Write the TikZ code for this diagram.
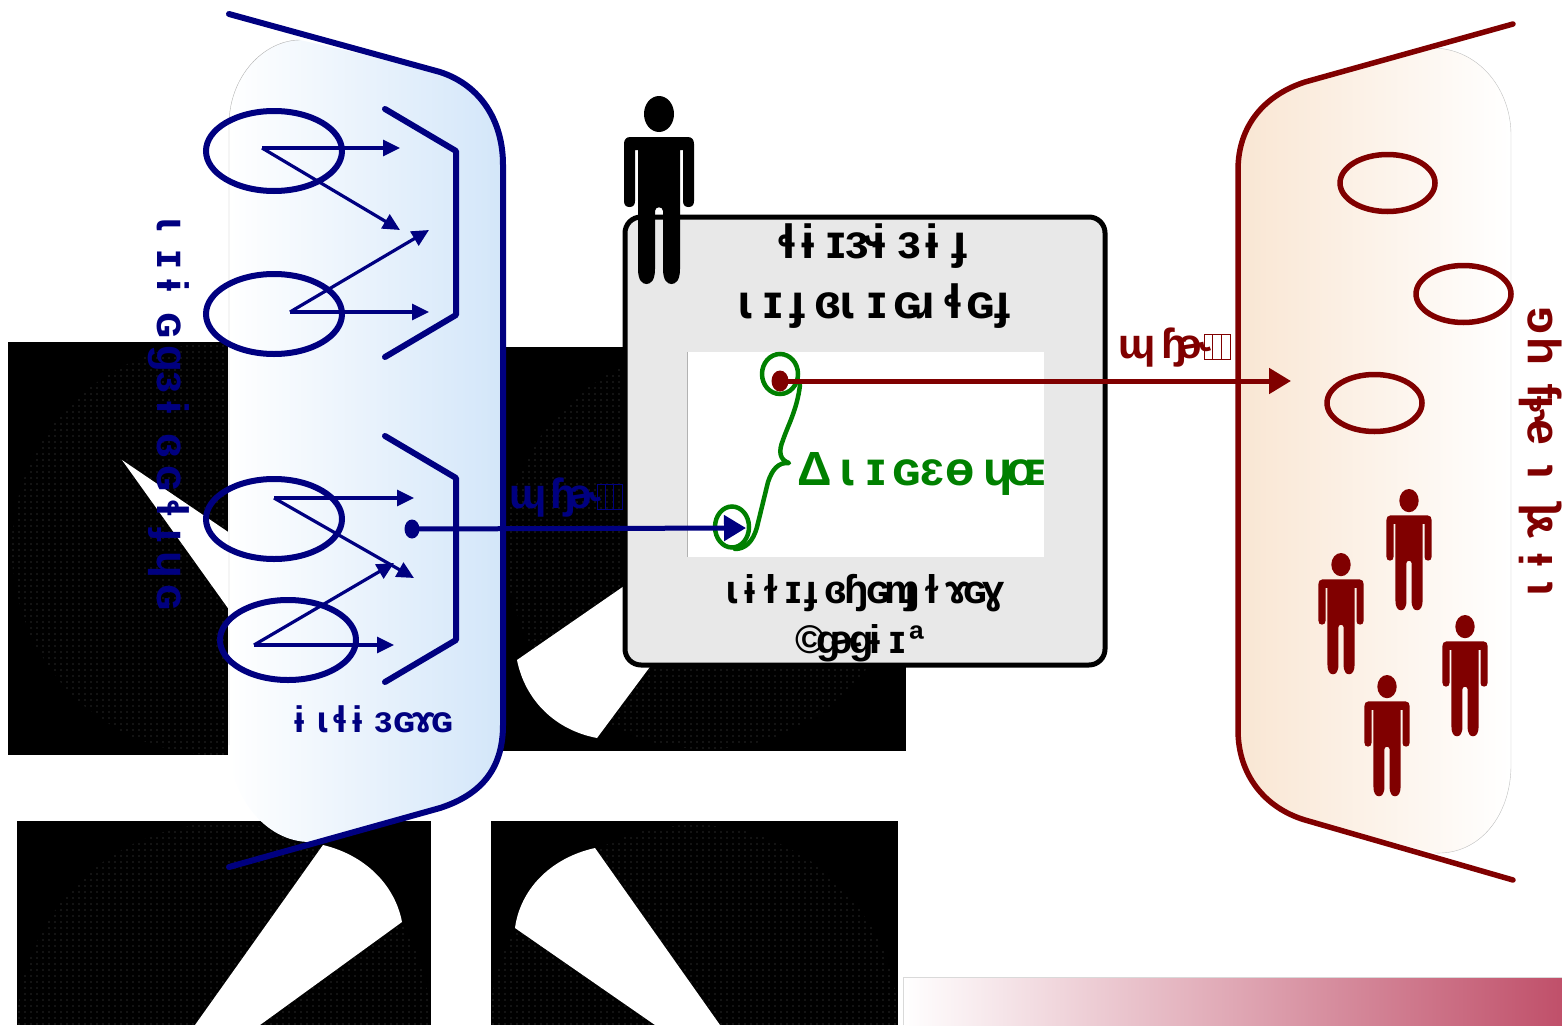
\documentclass[tikz,border=0pt]{standalone}
\usepackage{fontspec}
\setmainfont{Liberation Sans}
\newfontfamily\ipafont{Liberation Sans}
\usetikzlibrary{arrows.meta,patterns,shapes.geometric}
\definecolor{navyc}{HTML}{000080}
\definecolor{maroonc}{HTML}{800000}
\definecolor{greenc}{HTML}{008000}
\definecolor{boxgrey}{HTML}{E8E8E8}
\definecolor{dotgrey}{HTML}{555555}
\definecolor{paleblue}{HTML}{D3E6F9}
\definecolor{palepeach}{HTML}{F9E6D3}
\definecolor{rosec}{HTML}{C0506A}
\pgfdeclarepatternformonly{fdots}{\pgfqpoint{-1pt}{-1pt}}{\pgfqpoint{3pt}{3pt}}{\pgfqpoint{6pt}{6pt}}{\pgfpathcircle{\pgfqpoint{1pt}{1pt}}{0.55pt}\pgfusepath{fill}}
\newcommand{\G}[2]{\makebox[0pt]{#1}\kern#2pt\relax}
\newcommand{\figpath}{%
  (0,18) ellipse (15 and 18)
  (-29,41) .. controls (-33,41) and (-35,44) .. (-35,48) -- (-35,105) .. controls (-35,109) and (-33,111) .. (-29.5,111) .. controls (-26,111) and (-24,109) .. (-24,105) -- (-24,54) -- (-21,54)
  -- (-21,173) .. controls (-21,184) and (-17,188) .. (-12.5,188) .. controls (-8,188) and (-4,184) .. (-4,173) -- (-4,115) .. controls (-4,110) and (4,110) .. (4,115)
  -- (4,173) .. controls (4,184) and (8,188) .. (12.5,188) .. controls (17,188) and (21,184) .. (21,173)
  -- (21,54) -- (24,54) -- (24,105) .. controls (24,109) and (26,111) .. (29.5,111) .. controls (33,111) and (35,109) .. (35,105) -- (35,48) .. controls (35,44) and (33,41) .. (29,41) -- cycle}
\tikzset{
  x=1pt,y=-1pt,
  dotdisc/.style={pattern=fdots,pattern color=dotgrey},
  wedge/.style={fill=white,draw=none},
  bl/.style={draw=navyc,line width=6pt,line cap=round,line join=round},
  mr/.style={draw=maroonc,line width=5.5pt,line cap=round,line join=round},
  blring/.style={ellipse,draw=navyc,line width=6pt,minimum width=136pt,minimum height=80pt,inner sep=0pt},
  mrring/.style={ellipse,draw=maroonc,line width=5.5pt,minimum width=95pt,minimum height=57pt,inner sep=0pt},
  thinarrow/.style={draw=navyc,line width=3.2pt,-{Triangle[length=17pt,width=16pt]}},
  bigbl/.style={draw=navyc,line width=5pt,-{Triangle[length=22pt,width=25pt]}},
  bigmr/.style={draw=maroonc,line width=5pt,-{Triangle[length=22pt,width=25pt]}},
  greenring/.style={ellipse,draw=greenc,line width=4.5pt,inner sep=0pt},
  txt/.style={font=\ipafont\bfseries\fontsize{48}{50}\selectfont,inner sep=0pt,anchor=base west,text=black},
  midtxt/.style={font=\ipafont\bfseries\fontsize{40}{42}\selectfont,inner sep=0pt,anchor=base west,text=black},
  bottxt/.style={font=\ipafont\bfseries\fontsize{37}{39}\selectfont,inner sep=0pt,anchor=base west},
  lbltxt/.style={font=\ipafont\bfseries\fontsize{42}{44}\selectfont,inner sep=0pt,anchor=base west},
  tofu/.style={line width=.7pt},
}
\begin{document}
\begin{tikzpicture}
\useasboundingbox (0,0) rectangle (1562,1025);
% black background fragments
\begin{scope}
 \clip (8,342) rectangle (228,755);
 \fill[black] (8,342) rectangle (228,755);
 \fill[dotdisc] (218,549) circle (206);
\end{scope}
\fill[wedge] (122,460) -- (240,625) -- (240,540) -- cycle;
\begin{scope}
 \clip (500,347) rectangle (906,751);
 \fill[black] (500,347) rectangle (906,751);
 \fill[dotdisc] (706,549) circle (200);
\end{scope}
\fill[wedge] (640,575) -- (517,660) .. controls (525,700) and (555,730) .. (597,738) -- (655,660) -- cycle;
\begin{scope}
 \clip (17,821) rectangle (431,1025);
 \fill[black] (17,821) rectangle (431,1025);
 \fill[dotdisc] (224,1030) circle (207);
\end{scope}
\fill[wedge] (195,1025) -- (323,845) .. controls (365,855) and (395,885) .. (402,922) -- (260,1025) -- cycle;
\begin{scope}
 \clip (491,821) rectangle (898,1025);
 \fill[black] (491,821) rectangle (898,1025);
 \fill[dotdisc] (694,1030) circle (205);
\end{scope}
\fill[wedge] (515,928) .. controls (520,890) and (550,858) .. (595,848) -- (720,1025) -- (655,1025) -- cycle;
% bottom gradient
\shade[left color=white,right color=rosec,draw=none] (903,977) rectangle (1562,1025);
\draw[black!15,line width=.7pt] (903,1025) -- (903,977) -- (1562,977);
% blue panel
\shade[left color=white,right color=paleblue,draw=none]
 (229,125) .. controls (229,75) and (265,40) .. (300,40) -- (440,72) .. controls (480,85) and (503,120) .. (503,165)
 -- (503,725) .. controls (503,770) and (480,795) .. (440,808) -- (310,842) .. controls (265,842) and (229,795) .. (229,745) -- cycle;
\draw[black!30,line width=.4pt] (229,745) -- (229,125) .. controls (229,75) and (265,40) .. (300,40);
\coordinate (bt) at (229,14); \coordinate (bb) at (229,867);
\draw[bl] (bt) -- (440,72) .. controls (480,85) and (503,120) .. (503,165) -- (503,725) .. controls (503,770) and (480,795) .. (440,808) -- (bb);
% maroon panel
\shade[left color=palepeach,right color=white,draw=none]
 (1238,170) .. controls (1238,125) and (1265,95) .. (1305,82) -- (1435,48) .. controls (1480,50) and (1511,90) .. (1511,135)
 -- (1511,765) .. controls (1511,815) and (1480,855) .. (1435,853) -- (1305,820) .. controls (1265,808) and (1238,775) .. (1238,730) -- cycle;
\draw[black!25,line width=.4pt] (1435,48) .. controls (1480,50) and (1511,90) .. (1511,135) -- (1511,765) .. controls (1511,815) and (1480,855) .. (1435,853);
\coordinate (rt) at (1513,24); \coordinate (rb) at (1513,880);
\draw[mr] (rt) -- (1305,82) .. controls (1265,95) and (1238,125) .. (1238,170) -- (1238,730) .. controls (1238,775) and (1265,808) .. (1305,820) -- (rb);
% left ellipses
\node[blring] (e1) at (274,151) {};
\node[blring] (e2) at (274,314) {};
\node[blring] (e3) at (274,519) {};
\node[blring] (e4) at (288,640) {};
% brackets
\draw[bl] (385,109) -- (456,151) -- (456,315) -- (385,357);
\draw[bl] (385,436) -- (456,478) -- (456,640) -- (385,682);
% thin arrows
\coordinate (s1) at (262,148); \coordinate (t1a) at (400,148); \coordinate (t1b) at (400,230);
\coordinate (s2) at (290,312); \coordinate (t2a) at (429,230); \coordinate (t2b) at (429,312);
\coordinate (s3) at (274,498); \coordinate (t3a) at (414,498); \coordinate (t3b) at (414,578);
\coordinate (s4) at (254,645); \coordinate (t4a) at (394,563); \coordinate (t4b) at (394,645);
\draw[thinarrow] (s1) -- (t1a); \draw[thinarrow] (s1) -- (t1b);
\draw[thinarrow] (s2) -- (t2a); \draw[thinarrow] (s2) -- (t2b);
\draw[thinarrow] (s3) -- (t3a); \draw[thinarrow] (s3) -- (t3b);
\draw[thinarrow] (s4) -- (t4a); \draw[thinarrow] (s4) -- (t4b);
% grey box
\draw[black,fill=boxgrey,line width=5pt,rounded corners=16pt] (625,217) rectangle (1105,665);
\fill[white] (687,352) rectangle (1044,557);
\draw[black!30,line width=.6pt] (687,557) -- (687,352);
% person on box
\fill[black,shift={(659,96)}] \figpath;
% green marks
\node[greenring,minimum width=36pt,minimum height=40pt] (g1) at (780,374) {};
\node[greenring,minimum width=34pt,minimum height=41pt] (g2) at (732,527) {};
\draw[greenc,line width=4.5pt,line cap=round,line join=round] (800,385) .. controls (797,410) and (788,425) .. (783,440) .. controls (778,452) and (780,460) .. (789,463) .. controls (778,462) and (772,470) .. (768,482) -- (757,527) .. controls (753,542) and (745,549) .. (735,549);
% flows
\node[fill=navyc,ellipse,minimum width=15pt,minimum height=19pt,inner sep=0pt] (srcb) at (412,529) {};
\coordinate (dstb) at (746,528);
\draw[bigbl] (srcb.center) -- (dstb);
\node[fill=maroonc,ellipse,minimum width=17pt,minimum height=21pt,inner sep=0pt] (srcm) at (780,381) {};
\coordinate (dstm) at (1291,381);
\draw[bigmr] (srcm.center) -- (dstm);
% maroon ellipses
\node[mrring] (m1) at (1387.5,183) {};
\node[mrring] (m2) at (1463.5,294) {};
\node[mrring] (m3) at (1374.5,403) {};
% buyers
\fill[maroonc,shift={(1341,553)},scale=.645] \figpath;
\fill[maroonc,shift={(1409,489)},scale=.645] \figpath;
\fill[maroonc,shift={(1465,615)},scale=.645] \figpath;
\fill[maroonc,shift={(1387,675)},scale=.645] \figpath;
% texts
\node[txt] (l1) at (787,258) {\G{ɬ}{21}\G{ɨ}{28}\G{ɪ}{26}\G{ɝ}{17}\G{ɨ}{30}\G{ɜ}{23}\G{ɨ}{27}\G{ɟ}{0}};
\node[txt] (l2) at (745,318) {\G{ɩ}{28}\G{ɪ}{24}\G{ɟ}{31}\G{ɞ}{19}\G{ɩ}{30}\G{ɪ}{30}\G{ɢ}{19}\G{ɹ}{27}\G{ɬ}{27}\G{ɢ}{22}\G{ɟ}{0}};
\node[midtxt] (l3) at (732,603) {\G{ɩ}{18}\G{ɨ}{21}\G{ɫ}{22}\G{ɪ}{18}\G{ɟ}{25}\G{ɞ}{20}\G{ɧ}{22}\G{ɢ}{24}\G{ɱ}{8}\G{ɟ}{22}\G{ɫ}{25}\G{ɤ}{18}\G{ɢ}{18}\G{ɣ}{0}};
\node[midtxt] (l4) at (810,653) {\G{©}{18}\G{ɡ}{18}\G{ɚ}{15}\G{ɡ}{14}\G{ɨ}{22}\G{ɪ}{20}\G{ª}{0}};
\node[txt,text=greenc] (prof) at (815,485) {\G{Δ}{32}\G{ɩ}{29}\G{ɪ}{30}\G{ɢ}{26}\G{ɛ}{28}\G{ɵ}{38}\G{ɥ}{28}\G{ɶ}{0}};
\node[bottxt,text=navyc] (opt) at (299,732) {\G{ɨ}{23}\G{ɩ}{18}\G{ɬ}{17}\G{ɨ}{26}\G{ɜ}{21}\G{ɢ}{19}\G{ɤ}{19}\G{ɢ}{0}};
\node[lbltxt,text=navyc] (pr1) at (528,508) {\G{ɰ}{35}\G{ɧ}{22}\G{ɚ}{0}};
\draw[tofu,draw=navyc] (597,484) rectangle +(25,25) (605.3,484) -- (605.3,509) (613.6,484) -- (613.6,509);
\node[lbltxt,text=maroonc] (pr2) at (1137,358) {\G{ɰ}{37}\G{ɧ}{21}\G{ɚ}{0}};
\draw[tofu,draw=maroonc] (1204,334) rectangle +(26,25) (1212.7,334) -- (1212.7,359) (1221.4,334) -- (1221.4,359);
\node[txt,font=\ipafont\bfseries\fontsize{44}{46}\selectfont,text=navyc,rotate=-90,anchor=base west] (prod) at (157,224) {\G{ɩ}{35}\G{ɪ}{26}\G{ɨ}{40}\G{ɢ}{34}\G{ɡ}{23}\G{ɜ}{25}\G{ɨ}{39}\G{ɞ}{32}\G{ɢ}{30}\G{ɬ}{27}\G{ɟ}{30}\G{ɥ}{32}\G{ɢ}{0}};
\node[txt,font=\ipafont\bfseries\fontsize{46}{48}\selectfont,text=maroonc,rotate=90,anchor=base west] (buy) at (1552,589) {\G{ɩ}{29}\G{ɨ}{35}\G{ɤ}{15}\G{ɭ}{38}\G{ɩ}{44}\G{ɚ}{23}\G{ɬ}{13}\G{ɟ}{40}\G{ɥ}{31}\G{ɢ}{0}};
\end{tikzpicture}
\end{document}
